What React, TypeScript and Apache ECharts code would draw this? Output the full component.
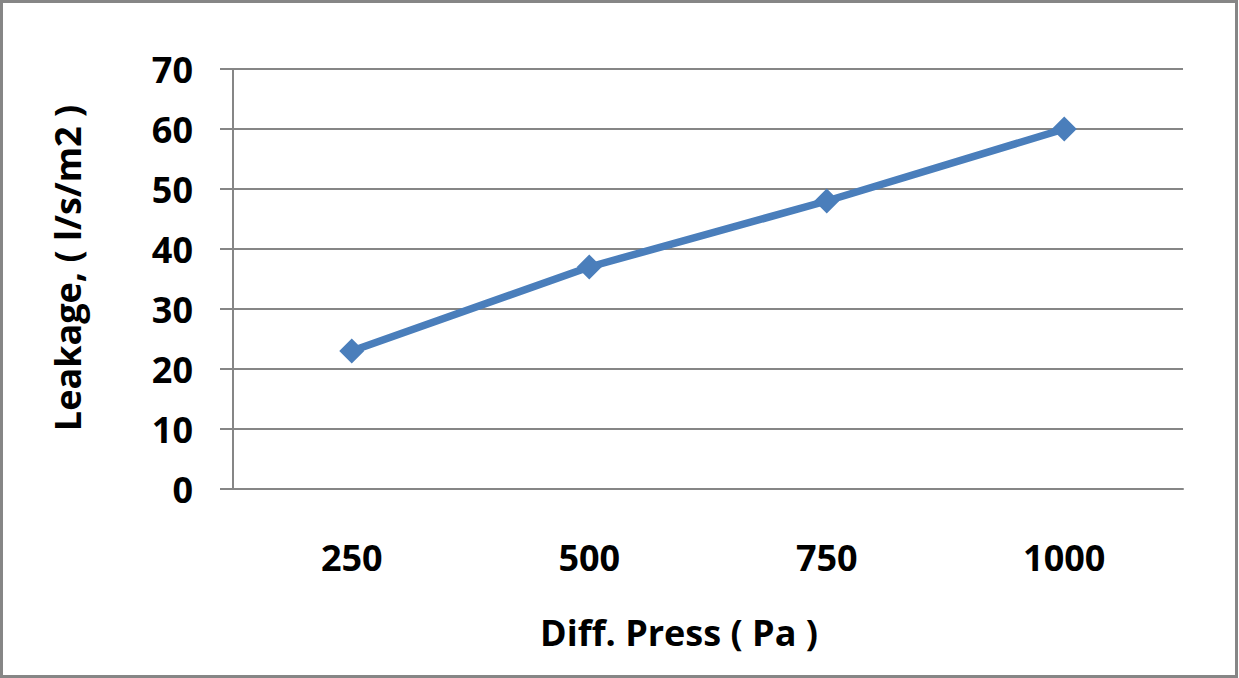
import React, { useEffect, useRef } from "react";
import * as echarts from "echarts";

const categories = ["250", "500", "750", "1000"];
const leakage = [23, 37, 48, 60];
const yMin = 0;
const yMax = 70;
const yInterval = 10;
const xTitle = "Diff. Press ( Pa )";
const yTitle = "Leakage, ( l/s/m2 )";

const FONT = "'Open Sans', 'Liberation Sans', sans-serif";
const GRAY = "#868686";
const FS = 36;

export default function App() {
  const ref = useRef<HTMLDivElement>(null);
  useEffect(() => {
    if (!ref.current) return;
    const chart = echarts.init(ref.current, undefined, { renderer: "svg" });
    chart.setOption({
      animation: false,
      backgroundColor: "#ffffff",
      grid: { left: 233, right: 56, top: 69, bottom: 189, containLabel: false },
      xAxis: {
        type: "category",
        data: categories,
        boundaryGap: true,
        axisLine: { show: true, lineStyle: { color: GRAY, width: 2 } },
        axisTick: { show: false },
        axisLabel: {
          margin: 50,
          color: "#000",
          fontFamily: FONT,
          fontWeight: "bold",
          fontSize: FS,
        },
        splitLine: { show: false },
      },
      yAxis: {
        type: "value",
        min: yMin,
        max: yMax,
        interval: yInterval,
        axisLine: { show: true, lineStyle: { color: GRAY, width: 2 } },
        axisTick: { show: true, length: 13, lineStyle: { color: GRAY, width: 2 } },
        axisLabel: {
          margin: 40,
          color: "#000",
          fontFamily: FONT,
          fontWeight: "bold",
          fontSize: FS,
        },
        splitLine: { show: true, lineStyle: { color: GRAY, width: 2 } },
      },
      series: [
        {
          type: "line",
          data: leakage,
          symbol: "diamond",
          symbolSize: 25,
          lineStyle: { color: "#4a7ebb", width: 7.5 },
          itemStyle: { color: "#4a7ebb" },
        },
      ],
      graphic: [
        {
          type: "rect",
          shape: { x: 1.5, y: 1.5, width: 1235, height: 675 },
          style: { fill: "none", stroke: GRAY, lineWidth: 3 },
          silent: true,
        },
        {
          type: "text",
          x: 679,
          y: 632,
          style: {
            text: xTitle,
            fill: "#000",
            font: `bold ${FS}px ${FONT}`,
            textAlign: "center",
            textVerticalAlign: "middle",
          },
        },
        {
          type: "text",
          x: 67,
          y: 268,
          rotation: Math.PI / 2,
          style: {
            text: yTitle,
            fill: "#000",
            font: `bold ${FS}px ${FONT}`,
            textAlign: "center",
            textVerticalAlign: "middle",
          },
        },
      ],
    });
    return () => chart.dispose();
  }, []);
  return (
    <div
      ref={ref}
      style={{ position: "absolute", left: 0, top: 0, width: 1239, height: 678 }}
    />
  );
}
